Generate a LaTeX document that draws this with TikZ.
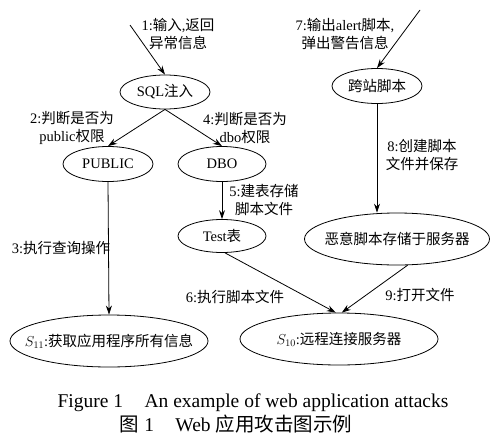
\documentclass[tikz,border=0pt]{standalone}
\usepackage{fontspec}
\usepackage{amsmath}
\usetikzlibrary{arrows.meta,shapes.geometric}
\setmainfont{Liberation Serif}
\newfontfamily\cjk{Noto Sans CJK SC}
\newcommand{\zh}[1]{{\cjk #1}}
\newcommand{\ctr}[1]{\makebox[0pt]{#1}}

\begin{document}
\begin{tikzpicture}[x=1pt, y=-1pt,
    oval/.style={ellipse, draw, line width=0.8pt, inner sep=0pt,
                 font=\fontsize{14.5}{17}\selectfont},
    lbl/.style={align=center, inner sep=0pt,
                font=\fontsize{14.5}{17.5}\selectfont},
    arr/.style={line width=0.8pt, -{Stealth[length=9pt,width=6pt]}},
    captxt/.style={inner sep=0pt, font=\fontsize{19.5}{22}\selectfont}
  ]
  \useasboundingbox (0,0) rectangle (500,447);

  \node[oval, minimum width=90pt,  minimum height=34pt] (sql)  at (165, 92) {\ctr{SQL\zh{注入}}};
  \node[oval, minimum width=90pt,  minimum height=35pt] (pub)  at (108,164) {\ctr{PUBLIC}};
  \node[oval, minimum width=88pt,  minimum height=35pt] (dbo)  at (222,164) {\ctr{DBO}};
  \node[oval, minimum width=90pt,  minimum height=35pt] (xss)  at (377, 86) {\ctr{\zh{跨站脚本}}};
  \node[oval, minimum width=88pt,  minimum height=33pt] (test) at (222,236) {\ctr{Test\zh{表}}};
  \node[oval, minimum width=185pt, minimum height=52pt] (mal)  at (397,239) {\ctr{\zh{恶意脚本存储于服务器}}};
  \node[oval, minimum width=198pt, minimum height=52pt] (s11)  at (109,341) {\ctr{$S_{11}$:\zh{获取应用程序所有信息}}};
  \node[oval, minimum width=198pt, minimum height=52pt] (s10)  at (339,339) {\ctr{$S_{10}$:\zh{远程连接服务器}}};

  \coordinate (in1) at (130,25);
  \coordinate (in7) at (420,10);

  \draw[arr] (in1) -- (sql.north);
  \draw[arr] (sql.south) -- (pub.north);
  \draw[arr] (sql.south) -- (dbo.north);
  \draw[arr] (pub.south) -- (s11.north);
  \draw[arr] (dbo.south) -- (test.north);
  \draw[arr] (test.-80) -- (s10.97);
  \draw[arr] (in7) -- (xss.north);
  \draw[arr] (xss.south) -- (xss.south |- mal.north);
  \draw[arr] (mal.-68) -- (s10.84);

  \node[lbl] (l1) at (178, 34) {1:\zh{输入},\zh{返回}\\\zh{异常信息}};
  \node[lbl] (l2) at ( 72,128) {2:\zh{判断是否为}\\public\zh{权限}};
  \node[lbl] (l4) at (245,128) {4:\zh{判断是否为}\\dbo\zh{权限}};
  \node[lbl] (l3) at ( 61,248) {3:\zh{执行查询操作}};
  \node[lbl] (l5) at (264,200) {5:\zh{建表存储}\\\zh{脚本文件}};
  \node[lbl] (l7) at (345, 34) {7:\zh{输出}alert\zh{脚本},\\\zh{弹出警告信息}};
  \node[lbl] (l8) at (422,155) {8:\zh{创建脚本}\\\zh{文件并保存}};
  \node[lbl] (l6) at (235,297) {6:\zh{执行脚本文件}};
  \node[lbl] (l9) at (420,295) {9:\zh{打开文件}};

  \node[captxt] (capen) at (253,403) {Figure 1\hspace{1.1em}An example of web application attacks};
  \node[captxt] (capzh) at (236,424) {\zh{图} 1\hspace{1.1em}Web \zh{应用攻击图示例}};
\end{tikzpicture}
\end{document}
